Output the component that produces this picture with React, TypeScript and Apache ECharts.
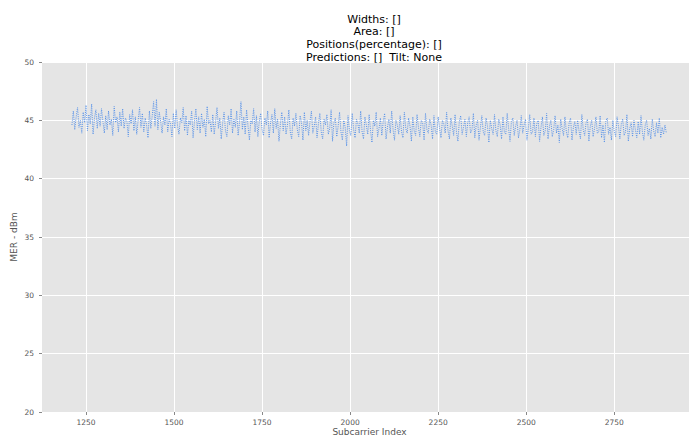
import React, { useEffect, useRef } from "react";
import * as echarts from "echarts";

const titleLines = [
  "Widths: []",
  "Area: []",
  "Positions(percentage): []",
  "Predictions: []  Tilt: None",
];
const xAxisName = "Subcarrier Index";
const yAxisName = "MER - dBm";
const xTicks = [1250, 1500, 1750, 2000, 2250, 2500, 2750];
const yTicks = [20, 25, 30, 35, 40, 45, 50];
const subcarrierStart = 1210;
const subcarrierStep = 4;

// MER readings (dBm), one every 4 subcarriers
const merValues = [
  44.6, 45.8, 44.2, 45.3, 46.1, 44.4, 45.0, 43.9, 45.7, 44.8, 46.3, 44.1, 45.5, 44.7, 46.4, 43.8, 45.2, 45.9, 44.3, 45.6,
  44.5, 46.0, 44.9, 43.9, 45.4, 44.2, 45.8, 44.6, 45.1, 43.7, 46.2, 44.8, 45.3, 44.0, 45.7, 44.5, 46.0, 44.3, 45.2, 44.9,
  43.6, 45.5, 44.7, 45.9, 44.1, 45.3, 43.8, 45.0, 46.1, 44.4, 45.6, 44.0, 45.2, 44.6, 43.5, 45.8, 44.3, 45.4, 46.6, 44.5,
  46.8, 44.2, 45.7, 44.9, 43.9, 45.3, 44.6, 46.0, 44.0, 45.1, 44.7, 43.6, 45.6, 44.3, 45.9, 44.5, 43.8, 45.2, 44.8, 46.1,
  44.1, 45.4, 43.7, 45.0, 44.6, 45.8, 43.5, 44.9, 46.0, 44.2, 45.3, 43.9, 45.6, 44.4, 45.1, 43.6, 46.2, 44.7, 45.0, 44.0,
  45.5, 43.8, 44.9, 46.1, 44.3, 45.2, 43.4, 44.8, 45.7, 44.1, 43.6, 45.4, 44.6, 46.0, 43.9, 45.1, 44.4, 45.8, 43.7, 44.9,
  46.6, 44.2, 45.3, 43.8, 45.9, 44.5, 43.3, 45.0, 44.7, 46.0, 44.0, 45.4, 43.6, 44.9, 45.6, 44.2, 43.7, 45.2, 44.6, 45.8,
  43.5, 44.8, 45.5, 43.9, 46.0, 44.3, 45.1, 43.2, 44.7, 45.7, 44.1, 45.3, 43.8, 44.6, 45.9, 44.0, 43.4, 45.2, 44.5, 45.6,
  44.2, 43.6, 45.4, 44.8, 43.3, 45.7, 44.1, 45.0, 43.7, 44.9, 45.8, 43.9, 44.5, 45.3, 43.5, 44.7, 45.6, 44.0, 43.4, 45.1,
  44.6, 45.5, 43.8, 44.3, 45.9, 43.2, 44.8, 45.2, 43.6, 44.5, 45.7, 44.0, 43.3, 45.0, 44.4, 42.8, 45.4, 44.1, 43.7, 45.6,
  44.2, 43.5, 45.1, 44.7, 43.9, 45.8, 44.0, 43.4, 45.3, 44.6, 43.8, 45.5, 44.1, 43.1, 45.0, 44.5, 45.7, 43.6, 44.3, 45.2,
  43.7, 44.9, 45.6, 43.4, 44.4, 45.1, 43.9, 45.8, 44.2, 43.3, 45.0, 44.6, 43.8, 45.4, 44.0, 43.5, 45.7, 44.3, 43.9, 45.2,
  44.5, 43.2, 45.3, 44.1, 43.7, 45.5, 44.4, 43.6, 45.0, 44.8, 43.3, 45.6, 44.2, 43.9, 45.1, 44.6, 43.4, 45.4, 44.0, 43.8,
  45.3, 44.3, 43.5, 45.0, 44.7, 43.9, 45.7, 44.1, 43.4, 45.2, 44.5, 43.7, 45.5, 44.0, 43.2, 44.9, 45.4, 43.8, 44.4, 45.1,
  43.6, 44.8, 45.3, 43.9, 44.2, 45.6, 43.5, 44.6, 45.0, 43.3, 44.4, 45.4, 44.0, 43.7, 45.2, 44.5, 43.1, 45.0, 44.3, 43.8,
  45.5, 44.1, 43.6, 45.1, 44.6, 43.4, 45.3, 44.0, 43.8, 45.6, 44.3, 43.2, 44.9, 45.2, 43.7, 44.5, 45.0, 43.5, 44.2, 45.4,
  43.9, 44.6, 45.1, 43.3, 44.3, 45.5, 43.8, 44.0, 45.2, 43.6, 44.7, 45.0, 43.2, 44.4, 45.3, 43.7, 44.1, 45.6, 43.4, 44.5,
  45.0, 43.6, 44.2, 45.4, 43.9, 44.6, 43.1, 45.1, 44.3, 43.7, 45.3, 44.0, 43.5, 44.8, 45.2, 43.3, 44.4, 44.9, 43.8, 45.0,
  44.1, 43.4, 45.5, 44.2, 43.7, 44.8, 45.1, 43.2, 44.5, 45.0, 43.6, 44.3, 45.3, 43.9, 44.0, 45.4, 43.5, 44.6, 43.1, 44.9,
  45.2, 43.8, 44.4, 43.3, 45.0, 44.1, 43.6, 45.3, 44.5, 43.4, 44.7, 45.1, 43.7, 44.0, 45.5, 43.2, 44.3, 44.8, 43.6, 45.0,
  44.2, 43.5, 44.9, 43.8, 45.4, 44.0, 43.3, 44.6, 45.0, 43.7, 44.3, 43.4, 45.1, 44.1, 43.6, 44.8, 43.9, 45.2, 43.5, 44.4,
  43.8, 44.6, 43.9,
];

const FONT = "DejaVu Sans";

export default function App() {
  const ref = useRef<HTMLDivElement>(null);
  useEffect(() => {
    if (!ref.current) return;
    const chart = echarts.init(ref.current, undefined, { renderer: "svg" });
    const points = merValues.map((v, i) => [subcarrierStart + i * subcarrierStep, v]);
    chart.setOption({
      animation: false,
      backgroundColor: "#ffffff",
      title: {
        text: titleLines.join("\n"),
        left: 369,
        textAlign: "center",
        top: 8,
        textStyle: {
          fontFamily: FONT,
          fontSize: 11,
          fontWeight: "normal",
          color: "#000000",
          lineHeight: 12.6,
        },
      },
      grid: {
        left: 42,
        right: -8,
        top: 62,
        bottom: 28,
        show: true,
        backgroundColor: "#E5E5E5",
        borderWidth: 0,
        outerBoundsMode: "none",
        containLabel: false,
      },
      xAxis: {
        type: "value",
        min: 1125,
        max: 2985,
        name: xAxisName,
        nameLocation: "middle",
        nameGap: 15,
        nameMoveOverlap: false,
        nameTextStyle: { fontFamily: FONT, fontSize: 9, color: "#555555" },
        axisLine: { show: false },
        axisTick: {
          show: true,
          length: 3,
          lineStyle: { color: "#888888", width: 1 },
          customValues: xTicks,
        },
        axisLabel: {
          customValues: xTicks,
          formatter: (v: number) => String(v),
          fontFamily: FONT,
          fontSize: 7.5,
          color: "#555555",
          margin: 6,
        },
        splitLine: { show: true, lineStyle: { color: "#ffffff", width: 1 } },
      },
      yAxis: {
        type: "value",
        min: 20,
        max: 50,
        interval: 5,
        name: yAxisName,
        nameLocation: "middle",
        nameGap: 24,
        nameMoveOverlap: false,
        nameTextStyle: { fontFamily: FONT, fontSize: 9, color: "#555555" },
        axisLine: { show: false },
        axisTick: {
          show: true,
          length: 3,
          lineStyle: { color: "#888888", width: 1 },
          customValues: yTicks,
        },
        axisLabel: {
          customValues: yTicks,
          formatter: (v: number) => String(v),
          fontFamily: FONT,
          fontSize: 7.5,
          color: "#555555",
          margin: 8,
        },
        splitLine: { show: true, lineStyle: { color: "#ffffff", width: 1 } },
      },
      series: [
        {
          type: "line",
          data: points,
          showSymbol: false,
          symbol: "none",
          lineStyle: { color: "#5a93e8", width: 1, type: [1, 1.2] },
          z: 3,
        },
      ],
    });
    return () => chart.dispose();
  }, []);
  return (
    <div
      ref={ref}
      style={{ position: "fixed", left: 0, top: 0, width: 689, height: 440 }}
    />
  );
}
